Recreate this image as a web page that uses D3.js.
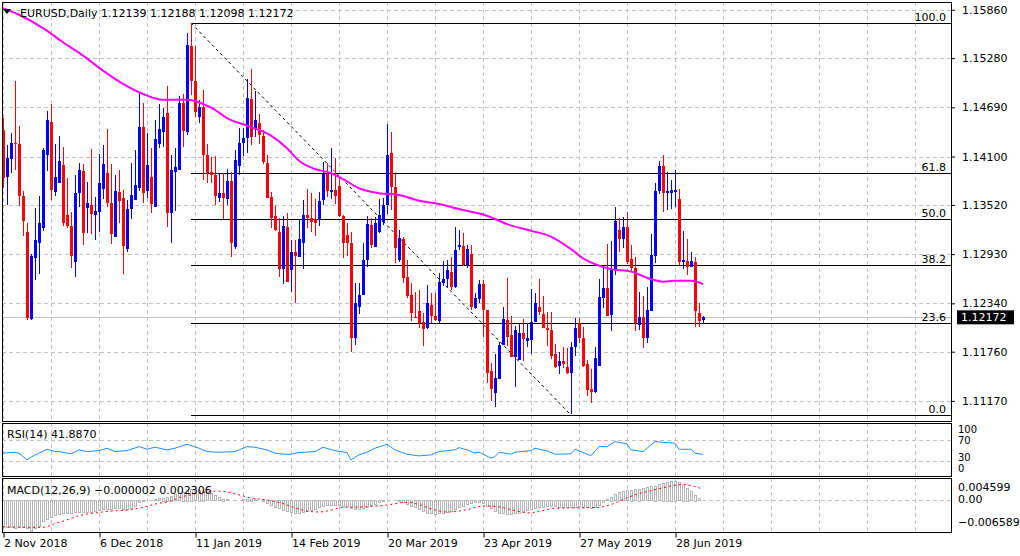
<!DOCTYPE html>
<html>
<head>
<meta charset="utf-8">
<script src="https://cdn.jsdelivr.net/npm/d3@7"></script>
<style>
html, body { margin: 0; padding: 0; background: #fff; }
svg { display: block; font-family: "DejaVu Sans", sans-serif; font-size: 11px; }
</style>
</head>
<body>
<svg id="chart" width="1020" height="556"></svg>
<script>
// ---- data ----
const symbol = 'EURUSD,Daily';
const lastQuote = [1.12139, 1.12188, 1.12098, 1.12172]; // O H L C of the last bar
const rsiLast = 41.887;
const macdLast = [-0.000002, 0.002306];

const tickLabels = ['2 Nov 2018', '6 Dec 2018', '11 Jan 2019', '14 Feb 2019', '20 Mar 2019', '23 Apr 2019', '27 May 2019', '28 Jun 2019'];
const tickBars = [0, 24, 48, 72, 96, 120, 144, 168];
const priceTicks = [1.15860, 1.15280, 1.14690, 1.14100, 1.13520, 1.12930, 1.12340, 1.11760, 1.11170];

// daily bars: [open, high, low, close]
const bars = [
  [1.1442,1.1456,1.1372,1.1384],[1.1386,1.1424,1.1352,1.1408],[1.1407,1.1438,1.1390,1.1426],[1.1426,1.1500,1.1394,1.1425],
  [1.1425,1.1447,1.1351,1.1363],[1.1363,1.1369,1.1315,1.1333],[1.1320,1.1330,1.1214,1.1216],[1.1215,1.1293,1.1214,1.1291],
  [1.1288,1.1348,1.1262,1.1310],[1.1306,1.1363,1.1269,1.1330],[1.1324,1.1420,1.1321,1.1418],[1.1412,1.1465,1.1393,1.1454],
  [1.1452,1.1473,1.1358,1.1370],[1.1368,1.1425,1.1363,1.1386],[1.1378,1.1435,1.1378,1.1405],[1.1400,1.1422,1.1327,1.1330],
  [1.1340,1.1384,1.1324,1.1327],[1.1327,1.1344,1.1276,1.1291],[1.1284,1.1388,1.1266,1.1366],[1.1366,1.1402,1.1350,1.1394],
  [1.1393,1.1401,1.1304,1.1318],[1.1348,1.1380,1.1318,1.1354],[1.1352,1.1419,1.1317,1.1341],[1.1340,1.1362,1.1310,1.1345],
  [1.1344,1.1413,1.1320,1.1378],[1.1371,1.1424,1.1359,1.1401],[1.1390,1.1443,1.1350,1.1354],[1.1354,1.1401,1.1305,1.1317],
  [1.1314,1.1388,1.1314,1.1369],[1.1368,1.1394,1.1330,1.1357],[1.1360,1.1370,1.1269,1.1303],[1.1299,1.1358,1.1296,1.1347],
  [1.1347,1.1402,1.1335,1.1364],[1.1358,1.1418,1.1358,1.1376],[1.1372,1.1486,1.1369,1.1446],[1.1446,1.1474,1.1354,1.1366],
  [1.1369,1.1438,1.1360,1.1400],[1.1386,1.1420,1.1342,1.1353],[1.1350,1.1454,1.1350,1.1431],[1.1425,1.1473,1.1420,1.1443],
  [1.1440,1.1468,1.1422,1.1458],[1.1462,1.1495,1.1326,1.1342],[1.1342,1.1412,1.1306,1.1394],[1.1392,1.1420,1.1345,1.1398],
  [1.1394,1.1482,1.1394,1.1474],[1.1474,1.1485,1.1422,1.1441],[1.1440,1.1558,1.1436,1.1544],[1.1543,1.1570,1.1484,1.1500],
  [1.1500,1.1542,1.1458,1.1464],[1.1458,1.1478,1.1450,1.1470],[1.1470,1.1490,1.1382,1.1412],[1.1412,1.1425,1.1378,1.1390],
  [1.1392,1.1410,1.1378,1.1388],[1.1388,1.1411,1.1352,1.1363],[1.1360,1.1390,1.1356,1.1366],[1.1366,1.1390,1.1335,1.1360],
  [1.1359,1.1395,1.1352,1.1381],[1.1381,1.1392,1.1290,1.1306],[1.1302,1.1418,1.1299,1.1406],[1.1399,1.1444,1.1388,1.1426],
  [1.1426,1.1444,1.1411,1.1432],[1.1432,1.1503,1.1414,1.1480],[1.1479,1.1515,1.1424,1.1434],[1.1444,1.1489,1.1434,1.1454],
  [1.1450,1.1461,1.1425,1.1436],[1.1435,1.1442,1.1401,1.1404],[1.1402,1.1412,1.1360,1.1360],[1.1362,1.1368,1.1324,1.1336],
  [1.1339,1.1351,1.1321,1.1322],[1.1320,1.1336,1.1266,1.1275],[1.1275,1.1339,1.1257,1.1327],[1.1326,1.1342,1.1260,1.1260],
  [1.1274,1.1310,1.1248,1.1296],[1.1296,1.1310,1.1234,1.1291],[1.1290,1.1334,1.1290,1.1311],[1.1306,1.1358,1.1275,1.1340],
  [1.1340,1.1371,1.1324,1.1336],[1.1336,1.1366,1.1320,1.1332],[1.1335,1.1359,1.1315,1.1330],[1.1334,1.1368,1.1327,1.1357],
  [1.1358,1.1404,1.1352,1.1389],[1.1389,1.1402,1.1362,1.1369],[1.1368,1.1420,1.1359,1.1370],[1.1370,1.1408,1.1353,1.1363],
  [1.1375,1.1384,1.1338,1.1339],[1.1339,1.1340,1.1288,1.1306],[1.1316,1.1330,1.1291,1.1306],[1.1306,1.1320,1.1176,1.1192],
  [1.1192,1.1258,1.1184,1.1234],[1.1230,1.1258,1.1221,1.1244],[1.1244,1.1306,1.1244,1.1286],[1.1286,1.1339,1.1278,1.1329],
  [1.1328,1.1336,1.1300,1.1304],[1.1302,1.1338,1.1302,1.1330],[1.1320,1.1359,1.1318,1.1340],[1.1332,1.1360,1.1328,1.1352],
  [1.1352,1.1449,1.1341,1.1412],[1.1414,1.1440,1.1346,1.1374],[1.1374,1.1389,1.1282,1.1300],[1.1286,1.1322,1.1284,1.1312],
  [1.1311,1.1314,1.1258,1.1264],[1.1266,1.1286,1.1240,1.1243],[1.1244,1.1258,1.1213,1.1222],[1.1218,1.1248,1.1216,1.1216],
  [1.1225,1.1250,1.1204,1.1210],[1.1212,1.1222,1.1183,1.1203],[1.1204,1.1256,1.1203,1.1234],[1.1232,1.1246,1.1210,1.1219],
  [1.1219,1.1246,1.1213,1.1214],[1.1213,1.1270,1.1210,1.1260],[1.1258,1.1285,1.1255,1.1263],[1.1263,1.1286,1.1254,1.1274],
  [1.1272,1.1290,1.1250,1.1254],[1.1254,1.1326,1.1252,1.1298],[1.1302,1.1322,1.1298,1.1304],[1.1303,1.1318,1.1279,1.1280],
  [1.1280,1.1304,1.1276,1.1299],[1.1293,1.1304,1.1226,1.1230],[1.1228,1.1246,1.1227,1.1240],[1.1239,1.1262,1.1234,1.1257],
  [1.1257,1.1262,1.1194,1.1226],[1.1226,1.1226,1.1138,1.1150],[1.1153,1.1162,1.1117,1.1131],[1.1127,1.1173,1.1110,1.1144],
  [1.1143,1.1188,1.1143,1.1184],[1.1184,1.1230,1.1184,1.1215],[1.1214,1.1264,1.1183,1.1194],[1.1196,1.1219,1.1170,1.1170],
  [1.1170,1.1207,1.1134,1.1202],[1.1166,1.1209,1.1166,1.1198],[1.1198,1.1215,1.1165,1.1191],[1.1189,1.1210,1.1182,1.1192],
  [1.1190,1.1251,1.1173,1.1212],[1.1212,1.1246,1.1212,1.1234],[1.1230,1.1263,1.1220,1.1224],[1.1221,1.1243,1.1204,1.1204],
  [1.1204,1.1224,1.1183,1.1202],[1.1202,1.1224,1.1167,1.1171],[1.1173,1.1185,1.1156,1.1158],[1.1159,1.1176,1.1149,1.1165],
  [1.1165,1.1182,1.1156,1.1161],[1.1158,1.1180,1.1149,1.1150],[1.1150,1.1188,1.1101,1.1182],[1.1182,1.1216,1.1171,1.1204],
  [1.1210,1.1216,1.1186,1.1192],[1.1192,1.1206,1.1158,1.1159],[1.1161,1.1166,1.1123,1.1130],[1.1131,1.1155,1.1114,1.1128],
  [1.1128,1.1182,1.1126,1.1168],[1.1159,1.1263,1.1159,1.1242],[1.1240,1.1279,1.1228,1.1252],[1.1252,1.1305,1.1219,1.1219],
  [1.1220,1.1309,1.1201,1.1275],[1.1275,1.1350,1.1268,1.1333],[1.1322,1.1336,1.1296,1.1311],[1.1311,1.1338,1.1300,1.1326],
  [1.1326,1.1344,1.1281,1.1284],[1.1287,1.1304,1.1272,1.1276],[1.1276,1.1290,1.1201,1.1210],[1.1208,1.1248,1.1202,1.1218],
  [1.1218,1.1243,1.1180,1.1192],[1.1192,1.1254,1.1186,1.1226],[1.1225,1.1317,1.1225,1.1292],[1.1291,1.1378,1.1282,1.1369],
  [1.1369,1.1405,1.1365,1.1399],[1.1399,1.1412,1.1344,1.1366],[1.1366,1.1392,1.1346,1.1369],[1.1366,1.1382,1.1347,1.1370],
  [1.1368,1.1394,1.1350,1.1370],[1.1359,1.1371,1.1280,1.1284],[1.1284,1.1321,1.1275,1.1286],[1.1285,1.1311,1.1268,1.1278],
  [1.1278,1.1296,1.1278,1.1285],[1.1284,1.1290,1.1206,1.1225],[1.1222,1.1234,1.1206,1.1213],[1.12139,1.12188,1.12098,1.12172]
];

// 100-day moving average, sampled at these bars
const maBars = [0,4,10,15,20,25,30,35,40,46,50,53,56,61,67,71,74,78,82,85,89,94,99,104,109,114,121,126,132,137,142,145,148,152,157,162,165,168,172,175];
const maValues = [1.1588,1.1580,1.1564,1.1547,1.1531,1.1513,1.1497,1.1485,1.1478,1.1478,1.1473,1.1466,1.1456,1.1447,1.1435,1.1420,1.1405,1.1395,1.1390,1.1383,1.1372,1.1366,1.1364,1.1357,1.1353,1.1347,1.1339,1.1329,1.1321,1.1314,1.1299,1.1288,1.1281,1.1275,1.1272,1.1263,1.1260,1.1261,1.1261,1.1257];

// Fibonacci retracement drawn from the 10 Jan high to the 23 May low
const fibLevels = [100, 61.8, 50, 38.2, 23.6, 0];
const fibFromBar = 47, fibToBar = 142;
const fibHigh = 1.1570, fibLow = 1.1100;

// RSI(14), sampled
const rsiBars = [0,3,4,6,8,9,11,13,14,17,19,21,24,26,28,31,34,36,38,41,43,46,49,51,54,58,61,63,66,68,70,72,74,78,80,83,86,87,89,91,93,96,98,101,104,107,109,113,114,116,118,119,122,123,124,127,128,132,133,136,138,142,143,146,147,149,151,153,156,157,160,163,168,169,172,173,175];
const rsiValues = [44.3,46.2,44.3,31.3,41,44.3,52,47.4,47.4,43,50.7,47.4,49.3,54,47.4,49.3,57,52,55.8,50.7,54,61.6,54,47.4,46.2,47.4,57,55.8,50.7,44.3,42.3,42.3,45.5,47.4,55.8,49.3,45.5,31.3,41,46.2,54,61.6,50.7,42.3,39,41,47.4,50.7,55.1,50.7,44.3,46.2,34.6,37.8,46.2,42.3,46.2,49.3,54,48.7,42.3,43,52,42.3,39.7,57,57,66.8,62.3,50.7,47.4,66.8,63.6,52,52,44.3,41.9];

// MACD(12,26,9) main line, one value per bar (histogram)
const macdMain = [
  -0.0057,-0.0058,-0.0059,-0.0060,-0.0059,-0.0058,-0.0061,-0.0066,-0.0060,-0.0055,
  -0.0046,-0.0040,-0.0036,-0.0033,-0.0031,-0.0029,-0.0028,-0.0027,-0.0026,-0.0025,
  -0.0026,-0.0026,-0.0025,-0.0024,-0.0022,-0.0020,-0.0019,-0.0019,-0.0018,-0.0018,
  -0.0019,-0.0020,-0.0018,-0.0012,-0.0005,-0.0003,-0.0001,0.0001,0.0003,0.0005,
  0.0006,0.0008,0.0010,0.0013,0.0016,0.0019,0.0023,0.0025,0.0024,0.0023,
  0.0021,0.0018,0.0015,0.0011,0.0007,0.0004,0.0002,0.0001,0.0000,0.0001,
  0.0003,0.0004,0.0004,0.0003,0.0001,-0.0002,-0.0006,-0.0010,-0.0014,-0.0018,
  -0.0021,-0.0024,-0.0026,-0.0027,-0.0027,-0.0026,-0.0024,-0.0022,-0.0019,-0.0016,
  -0.0013,-0.0011,-0.0010,-0.0010,-0.0011,-0.0012,-0.0013,-0.0018,-0.0020,-0.0019,
  -0.0017,-0.0014,-0.0011,-0.0008,-0.0005,-0.0002,0.0000,0.0001,0.0000,-0.0002,
  -0.0004,-0.0008,-0.0012,-0.0016,-0.0020,-0.0024,-0.0027,-0.0029,-0.0030,-0.0029,
  -0.0028,-0.0026,-0.0023,-0.0020,-0.0016,-0.0012,-0.0009,-0.0007,-0.0005,-0.0005,
  -0.0007,-0.0012,-0.0018,-0.0023,-0.0027,-0.0029,-0.0030,-0.0030,-0.0029,-0.0028,
  -0.0025,-0.0022,-0.0019,-0.0017,-0.0015,-0.0014,-0.0013,-0.0013,-0.0013,-0.0014,
  -0.0015,-0.0015,-0.0015,-0.0014,-0.0013,-0.0015,-0.0016,-0.0017,-0.0016,-0.0010,
  -0.0004,0.0002,0.0008,0.0013,0.0017,0.0020,0.0022,0.0023,0.0024,0.0025,
  0.0026,0.0028,0.0030,0.0032,0.0035,0.0038,0.0040,0.0042,0.0042,0.0039,
  0.0034,0.0027,0.0020,0.0012,0.0005,-0.000002
];
// MACD signal line, sampled
const sigBars = [0,10,13,16,19,24,27,32,35,38,42,44,47,50,53,56,59,62,66,70,73,76,79,82,85,90,96,101,104,107,111,116,120,124,128,132,134,138,149,152,154,158,161,165,167,170,172,174,175];
const sigValues = [-0.0057,-0.0058,-0.0050,-0.0042,-0.0033,-0.0026,-0.0023,-0.0020,-0.0015,-0.0008,-0.0001,0.0006,0.0012,0.0017,0.0020,0.0018,0.0012,0.0005,0.0001,-0.0007,-0.0016,-0.0023,-0.0025,-0.0021,-0.0015,-0.0014,-0.0010,-0.0004,-0.0009,-0.0018,-0.0025,-0.0020,-0.0012,-0.0014,-0.0022,-0.0027,-0.0024,-0.0017,-0.0015,-0.0009,-0.0002,0.0012,0.0019,0.0027,0.0031,0.0034,0.0032,0.0027,0.002306];

// ---- layout ----
const L = 2, R = 951;
const mainP = { top: 2, bottom: 421 };
const rsiP = { top: 423, bottom: 476 };
const macdP = { top: 478, bottom: 532 };
const gridCol = '#c0c0c0';
const bull = '#0000ff', bear = '#ff0000';

const svg = d3.select('#chart');

const x = d3.scaleLinear().domain([0, 237]).range([3, 951]); // 4 px a bar, chart shifted left
const y = d3.scaleLinear().domain([1.10941, 1.15953]).range([420, 2]);
const yR = d3.scaleLinear().domain([0, 100]).range([476, 424.5]);
const yM = d3.scaleLinear().domain([-0.006589, 0.004599]).range([531, 479]);

const defs = svg.append('defs');
[['clipMain', mainP], ['clipRsi', rsiP], ['clipMacd', macdP]].forEach(([id, p]) => {
    defs.append('clipPath').attr('id', id)
        .append('rect').attr('x', L).attr('y', p.top).attr('width', R - L).attr('height', p.bottom - p.top);
});

// vertical grid in every panel
const gridBars = d3.range(0, 237, 12);
[mainP, rsiP, macdP].forEach((p) => {
    svg.append('g').selectAll('line').data(gridBars).join('line')
        .attr('x1', d => Math.round(x(d)) + 0.5).attr('x2', d => Math.round(x(d)) + 0.5)
        .attr('y1', p.top).attr('y2', p.bottom)
        .attr('stroke', gridCol).attr('stroke-dasharray', '4,3');
});

// ---- main panel ----
const gMain = svg.append('g').attr('clip-path', 'url(#clipMain)');

gMain.append('g').selectAll('line').data(priceTicks).join('line')
    .attr('x1', L).attr('x2', R)
    .attr('y1', d => Math.round(y(d)) + 0.5).attr('y2', d => Math.round(y(d)) + 0.5)
    .attr('stroke', gridCol).attr('stroke-dasharray', '4,3');

// bid line
gMain.append('line')
    .attr('x1', L).attr('x2', R)
    .attr('y1', Math.round(y(lastQuote[3])) + 0.5).attr('y2', Math.round(y(lastQuote[3])) + 0.5)
    .attr('stroke', gridCol);

// fibonacci levels
const fibY = lv => y(fibLow + (fibHigh - fibLow) * lv / 100);
gMain.append('g').selectAll('line').data(fibLevels).join('line')
    .attr('x1', x(fibFromBar)).attr('x2', R)
    .attr('y1', d => Math.round(fibY(d)) + 0.5).attr('y2', d => Math.round(fibY(d)) + 0.5)
    .attr('stroke', '#000');
gMain.append('g').selectAll('text').data(fibLevels).join('text')
    .attr('x', R - 5).attr('y', d => Math.round(fibY(d)) - 2)
    .attr('text-anchor', 'end').attr('fill', '#000')
    .text(d => d3.format('.1f')(d));
gMain.append('line')
    .attr('x1', x(fibFromBar)).attr('y1', y(fibHigh))
    .attr('x2', x(fibToBar)).attr('y2', y(fibLow))
    .attr('stroke', '#000').attr('stroke-dasharray', '3,3');

// candles
const gC = gMain.append('g').attr('shape-rendering', 'crispEdges');
const cand = gC.selectAll('g').data(bars).join('g');
cand.append('line')
    .attr('x1', (d, i) => Math.round(x(i)) + 0.5).attr('x2', (d, i) => Math.round(x(i)) + 0.5)
    .attr('y1', d => y(d[1])).attr('y2', d => y(d[2]))
    .attr('stroke', d => (d[3] >= d[0] ? bull : bear));
cand.append('rect')
    .attr('x', (d, i) => Math.round(x(i)) - 1).attr('width', 3)
    .attr('y', d => y(Math.max(d[0], d[3])))
    .attr('height', d => Math.max(1, Math.abs(y(d[0]) - y(d[3]))))
    .attr('fill', d => (d[3] >= d[0] ? bull : bear));

// moving average
gMain.append('path')
    .datum(maBars.map((b, i) => [b, maValues[i]]))
    .attr('d', d3.line().x(d => x(d[0])).y(d => y(d[1])).curve(d3.curveMonotoneX))
    .attr('fill', 'none').attr('stroke', '#ff00ff').attr('stroke-width', 2);

// header
svg.append('path').attr('d', 'M3,9 L11,9 L7,14 Z').attr('fill', '#000');
svg.append('text').attr('x', 20).attr('y', 17).attr('fill', '#000')
    .text(`${symbol}  ${lastQuote.map(d3.format('.5f')).join(' ')}`);

// price axis
const yAxis = d3.axisRight(y).tickValues(priceTicks).tickFormat(d3.format('.5f')).tickSize(4).tickPadding(7);
const gy = svg.append('g').attr('transform', `translate(${R},0)`).call(yAxis);
gy.select('.domain').remove();
gy.selectAll('text').attr('font-family', 'DejaVu Sans').attr('font-size', 11).attr('fill', '#000');
gy.selectAll('line').attr('stroke', '#000');

const bidY = y(lastQuote[3]);
svg.append('rect').attr('x', R + 6).attr('y', bidY - 7).attr('width', 57).attr('height', 14).attr('fill', '#000');
svg.append('text').attr('x', R + 10).attr('y', bidY).attr('dy', '0.35em').attr('fill', '#fff')
    .text(d3.format('.5f')(lastQuote[3]));

// ---- RSI panel ----
const gR = svg.append('g').attr('clip-path', 'url(#clipRsi)');
gR.selectAll('line.lv').data([70, 30]).join('line').attr('class', 'lv')
    .attr('x1', L).attr('x2', R)
    .attr('y1', d => Math.round(yR(d)) + 0.5).attr('y2', d => Math.round(yR(d)) + 0.5)
    .attr('stroke', gridCol).attr('stroke-dasharray', '4,3');
gR.append('path')
    .datum(rsiBars.map((b, i) => [b, rsiValues[i]]))
    .attr('d', d3.line().x(d => x(d[0])).y(d => yR(d[1])))
    .attr('fill', 'none').attr('stroke', '#1e90ff').attr('stroke-width', 1);
svg.append('text').attr('x', 7).attr('y', 438).text(`RSI(14) ${d3.format('.4f')(rsiLast)}`);
// level labels stacked so they stay inside the panel without touching
const rsiLabelY = { 100: 429, 70: 440, 30: 457, 0: 468 };
svg.append('g').selectAll('text').data([100, 70, 30, 0]).join('text')
    .attr('x', R + 7).attr('y', d => rsiLabelY[d])
    .attr('dy', '0.35em').attr('font-size', 10).text(d => d);

// ---- MACD panel ----
const gM = svg.append('g').attr('clip-path', 'url(#clipMacd)');
gM.append('line').attr('x1', L).attr('x2', R)
    .attr('y1', Math.round(yM(0)) + 0.5).attr('y2', Math.round(yM(0)) + 0.5)
    .attr('stroke', gridCol).attr('stroke-dasharray', '4,3');
gM.append('g').attr('shape-rendering', 'crispEdges')
    .selectAll('rect').data(macdMain).join('rect')
    .attr('x', (d, i) => Math.round(x(i)) - 0.5).attr('width', 2)
    .attr('y', d => Math.round(Math.min(yM(d), yM(0))) + 0.5)
    .attr('height', d => Math.max(0, Math.round(Math.abs(yM(d) - yM(0)))))
    .attr('fill', '#fff').attr('stroke', '#b4b4b4');
gM.append('path')
    .datum(sigBars.map((b, i) => [b, sigValues[i]]))
    .attr('d', d3.line().x(d => x(d[0])).y(d => yM(d[1])).curve(d3.curveMonotoneX))
    .attr('fill', 'none').attr('stroke', '#ff0000').attr('stroke-dasharray', '2,3');
svg.append('text').attr('x', 7).attr('y', 494)
    .text(`MACD(12,26,9) ${d3.format('.6f')(macdLast[0])} ${d3.format('.6f')(macdLast[1])}`);
const macdLabels = [yM.domain()[1], 0, yM.domain()[0]];
svg.append('g').selectAll('text').data(macdLabels).join('text')
    .attr('x', R + 7).attr('y', d => Math.min(macdP.bottom - 10, Math.max(macdP.top + 9, yM(d) - 1)))
    .attr('dy', '0.35em').text(d => (d === 0 ? '0.00' : d3.format('.6f')(d)));

// ---- panel frames ----
[mainP, rsiP, macdP].forEach((p) => {
    svg.append('rect').attr('x', L + 0.5).attr('y', p.top + 0.5)
        .attr('width', R - L).attr('height', p.bottom - p.top)
        .attr('fill', 'none').attr('stroke', '#000');
});

// time axis
const xAxis = d3.axisBottom(x).tickValues(tickBars).tickFormat((d, i) => tickLabels[i]).tickSize(5).tickPadding(2);
const gx = svg.append('g').attr('transform', `translate(0.5,${macdP.bottom + 0.5})`).call(xAxis);
gx.select('.domain').remove();
gx.selectAll('line').attr('stroke', '#000');
gx.selectAll('text').attr('text-anchor', 'start').attr('font-family', 'DejaVu Sans').attr('font-size', 11).attr('fill', '#000');
</script>
</body>
</html>
